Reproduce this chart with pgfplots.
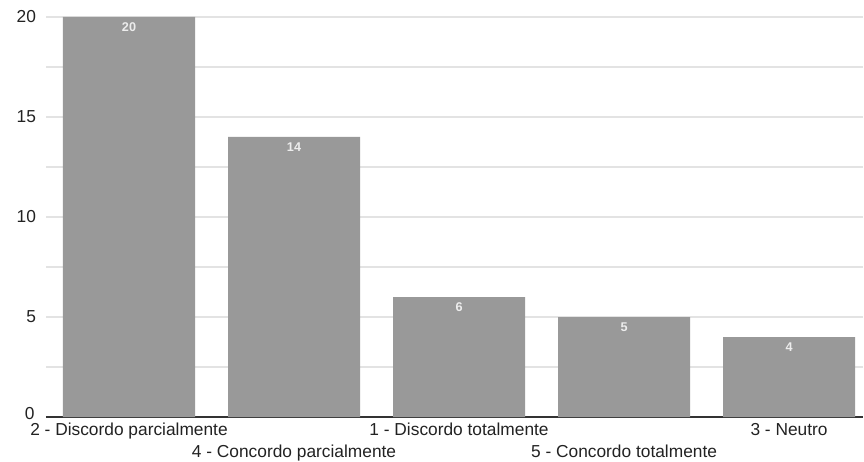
\documentclass[border=0pt]{standalone}
\usepackage{pgfplots}
\pgfplotsset{compat=1.18}
\usepackage{fontspec}
\setmainfont{Liberation Sans}
\definecolor{bargray}{HTML}{999999}
\definecolor{gridgray}{HTML}{E3E3E3}
\definecolor{axisgray}{HTML}{333333}
\definecolor{labelgray}{HTML}{222222}

\begin{document}
\begin{tikzpicture}
\useasboundingbox (0,0) rectangle (648pt,345.75pt);
\begin{axis}[
  at={(34.5pt,33pt)}, anchor=south west,
  scale only axis,
  width=612.75pt, height=300pt,
  ybar, bar width=0.8,
  xmin=-0.503, xmax=4.448,
  ymin=0, ymax=20,
  axis x line*=bottom, axis y line*=left,
  x axis line style={draw=axisgray, line width=1pt, -},
  y axis line style={draw=none},
  tick style={draw=none},
  ytick={5,10,15,20},
  minor ytick={2.5,7.5,12.5,17.5},
  extra y ticks={0},
  extra y tick style={grid=none, yticklabel style={yshift=2.5pt, xshift=-1pt}},
  ymajorgrids, yminorgrids,
  major grid style={draw=gridgray, line width=1pt},
  minor grid style={draw=gridgray, line width=1pt},
  /pgf/number format/assume math mode=true,
  yticklabel style={font=\fontsize{13}{15}\selectfont, text=labelgray, xshift=-4pt},
  xtick={0,2,4},
  xticklabels={2 - Discordo parcialmente, 1 - Discordo totalmente, 3 - Neutro},
  extra x ticks={1,3},
  extra x tick labels={4 - Concordo parcialmente, 5 - Concordo totalmente},
  extra x tick style={grid=none, xticklabel style={yshift=-16.5pt}},
  xticklabel style={font=\fontsize{13}{15}\selectfont, text=labelgray, yshift=3pt},
  nodes near coords,
  every node near coord/.append style={anchor=north, yshift=-1pt,
    font=\fontsize{9.5}{11}\selectfont\bfseries, text=white!93!black},
]
\addplot[fill=bargray, draw=none] coordinates {(0,20) (1,14) (2,6) (3,5) (4,4)};
\end{axis}
\end{tikzpicture}
\end{document}
